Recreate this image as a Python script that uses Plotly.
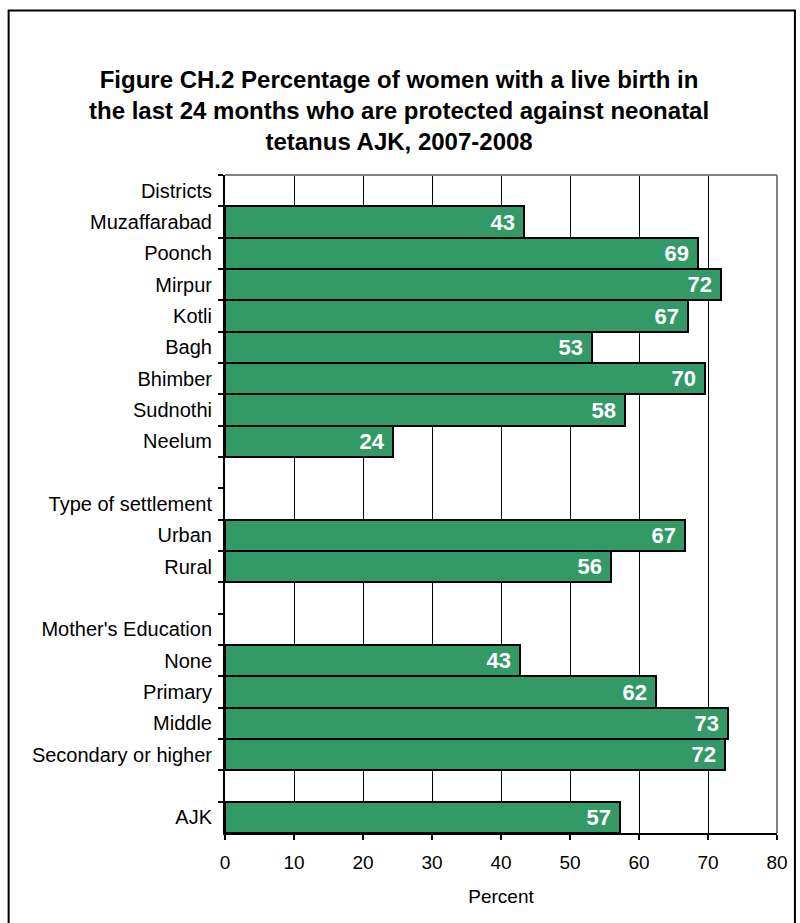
import plotly.graph_objects as go

# rows top to bottom; blank rows and group headers have no value
labels = [
    "Districts", "Muzaffarabad", "Poonch", "Mirpur", "Kotli", "Bagh", "Bhimber",
    "Sudnothi", "Neelum", " ", "Type of settlement", "Urban", "Rural", "  ",
    "Mother's Education", "None", "Primary", "Middle", "Secondary or higher",
    "   ", "AJK",
]
values = [
    None, 43.3, 68.6, 71.9, 67.1, 53.2, 69.6, 58.0, 24.4, None, None, 66.7, 56.0,
    None, None, 42.8, 62.4, 72.9, 72.5, None, 57.2,
]
value_text = ["", "43", "69", "72", "67", "53", "70", "58", "24", "", "",
              "67", "56", "", "", "43", "62", "73", "72", "", "57"]
x_ticks = [0, 10, 20, 30, 40, 50, 60, 70, 80]

GREEN = "#339966"
FONT = "Liberation Sans, Arial, sans-serif"

fig = go.Figure(go.Bar(
    x=values, y=labels, orientation="h",
    marker=dict(color=GREEN, line=dict(color="black", width=2)),
    text=[t + "\u00a0" if t else t for t in value_text],
    textposition="inside", insidetextanchor="end",
    textfont=dict(family=FONT, size=22, color="white", weight="bold"),
    cliponaxis=False, showlegend=False, hoverinfo="skip",
))

fig.update_layout(
    width=800, height=923,
    paper_bgcolor="white", plot_bgcolor="white",
    margin=dict(l=225, r=21, t=175, b=90),
    bargap=0,
    font=dict(family=FONT, color="black"),
    uniformtext=dict(minsize=22, mode="show"),
    annotations=[dict(
        text="Figure CH.2 Percentage of women with a live birth in<br>"
             "the last 24 months who are protected against neonatal<br>"
             "tetanus AJK, 2007-2008",
        xref="paper", yref="paper", x=0.316, y=1.0973,
        xanchor="center", yanchor="middle", showarrow=False,
        font=dict(family=FONT, size=24, color="black", weight="bold"),
    )],
    shapes=[
        # outer chart frame
        dict(type="rect", xref="paper", yref="paper",
             x0=-0.392, x1=1.0325, y0=-0.16, y1=1.25,
             line=dict(color="black", width=2), layer="below"),
        # plot area border (top and right, grey)
        dict(type="line", xref="paper", yref="paper", x0=0, x1=1, y0=1, y1=1,
             line=dict(color="#808080", width=2), layer="above"),
        dict(type="line", xref="paper", yref="paper", x0=1, x1=1, y0=0, y1=1,
             line=dict(color="#808080", width=2), layer="above"),
    ],
)

fig.update_xaxes(
    range=[0, 80], tickvals=x_ticks, ticks="outside", ticklen=5, tickwidth=2,
    tickcolor="black", showline=True, linecolor="black", linewidth=2,
    showgrid=True, gridcolor="black", gridwidth=1, zeroline=False,
    tickfont=dict(family=FONT, size=19, color="black"), ticklabelstandoff=6,
    title=dict(text="Percent", font=dict(family=FONT, size=19, color="black"),
               standoff=18),
)
fig.update_yaxes(
    type="category", categoryorder="array", categoryarray=labels,
    range=[len(labels) - 0.5, -0.5], tickson="boundaries",
    ticks="outside", ticklen=5, tickwidth=2, tickcolor="black",
    showline=True, linecolor="black", linewidth=2, showgrid=False,
    tickfont=dict(family=FONT, size=20, color="black"), ticklabelstandoff=7,
)

fig.write_html("out.html", config={"displayModeBar": False},
               post_script="document.body.style.margin='0';")
